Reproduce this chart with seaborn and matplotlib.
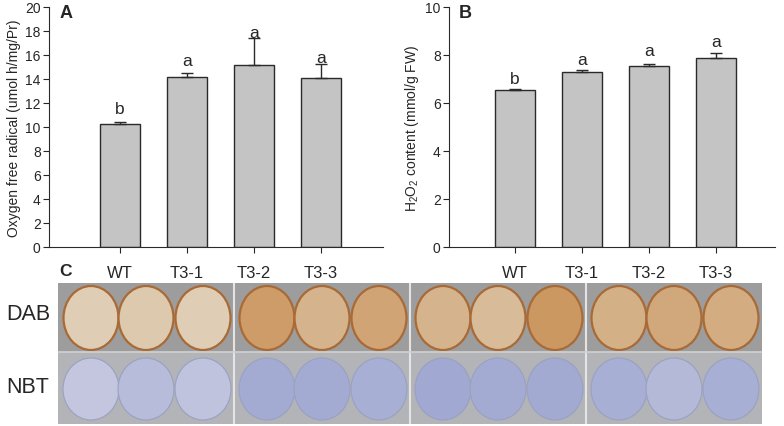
import numpy as np
import pandas as pd
import matplotlib
matplotlib.use("Agg")
import matplotlib.pyplot as plt
from matplotlib.patches import Ellipse, Rectangle
import seaborn as sns

# datos
lineas = ["WT", "T3-1", "T3-2", "T3-3"]

radical_media = [10.25, 14.2, 15.2, 14.06]
radical_error = [0.15, 0.3, 2.25, 1.16]
radical_letras = ["b", "a", "a", "a"]
radical_letras_y = [11.5, 15.5, 17.9, 15.75]

h2o2_media = [6.55, 7.31, 7.55, 7.86]
h2o2_error = [0.04, 0.07, 0.06, 0.22]
h2o2_letras = ["b", "a", "a", "a"]
h2o2_letras_y = [7.0, 7.83, 8.17, 8.58]

# intensidad aparente de tinción por disco (3 discos por línea)
dab_intensidad = [[0.12, 0.18, 0.12], [0.75, 0.45, 0.65],
                  [0.45, 0.35, 0.8], [0.5, 0.6, 0.55]]
nbt_intensidad = [[0.2, 0.35, 0.25], [0.6, 0.6, 0.55],
                  [0.65, 0.6, 0.62], [0.55, 0.4, 0.55]]

sns.set_style("ticks")
plt.rcParams["font.family"] = ["Liberation Sans", "DejaVu Sans"]
plt.rcParams["mathtext.fontset"] = "custom"
plt.rcParams["mathtext.rm"] = "Liberation Sans"

fig = plt.figure(figsize=(7.84, 4.27), dpi=100)

W, H = 784, 427


def px_axes(x0, y0, x1, y1):
    return fig.add_axes([x0 / W, 1 - y1 / H, (x1 - x0) / W, (y1 - y0) / H])


def plot_bar_panel(ax, medias, errores, letras, letras_y, ymax, paso, ylabel, xlim):
    df = pd.DataFrame({"linea": lineas, "valor": medias})
    sns.barplot(data=df, x="linea", y="valor", color="#c4c4c4",
                edgecolor="#2a2a2a", linewidth=1.0, width=0.6,
                saturation=1, ax=ax)
    ax.errorbar(range(len(lineas)), medias,
                yerr=[np.zeros(len(errores)), errores],
                fmt="none", ecolor="#2a2a2a", elinewidth=1.0,
                capsize=4, capthick=1.0)
    for i, (l, y) in enumerate(zip(letras, letras_y)):
        ax.text(i, y, l, ha="center", va="center", fontsize=12.5)
    ax.set_ylim(0, ymax)
    ax.set_xlim(*xlim)
    ax.set_yticks(np.arange(0, ymax + paso / 2, paso))
    ax.set_ylabel(ylabel, fontsize=10, labelpad=3)
    ax.set_xlabel("")
    ax.tick_params(axis="y", labelsize=10, length=4, width=0.8, pad=2)
    ax.tick_params(axis="x", labelsize=12, length=4, width=0.8, pad=9)
    for s in ["top", "right"]:
        ax.spines[s].set_visible(False)
    for s in ["left", "bottom"]:
        ax.spines[s].set_linewidth(0.8)
        ax.spines[s].set_color("#2a2a2a")


ax_a = px_axes(49, 8, 383, 248)
plot_bar_panel(ax_a, radical_media, radical_error, radical_letras,
               radical_letras_y, 20, 2,
               "Oxygen free radical (umol h/mg/Pr)", (-1.06, 3.93))
fig.text(60 / W, 1 - 14 / H, "A", fontsize=13, fontweight="bold", va="center")

ax_b = px_axes(449, 8, 775, 248)
plot_bar_panel(ax_b, h2o2_media, h2o2_error, h2o2_letras,
               h2o2_letras_y, 10, 2,
               r"H$_\mathregular{2}$O$_\mathregular{2}$ content (mmol/g FW)",
               (-0.985, 3.88))
fig.text(459 / W, 1 - 14 / H, "B", fontsize=13, fontweight="bold", va="center")

# panel C: discos de hoja teñidos
fig.text(59 / W, 1 - 272 / H, "C", fontsize=12.5, fontweight="bold", va="center")
fig.text(6 / W, 1 - 315 / H, "DAB", fontsize=15.5, va="center")
fig.text(6 / W, 1 - 388 / H, "NBT", fontsize=15.5, va="center")

ax_c = px_axes(58, 284, 762, 425)
ax_c.set_xlim(0, 704)
ax_c.set_ylim(141, 0)
ax_c.axis("off")

ax_c.add_patch(Rectangle((0, 0), 704, 69, color="#9d9d9d", zorder=0))
ax_c.add_patch(Rectangle((0, 69), 704, 72, color="#b3b4b8", zorder=0))

dab_claro = np.array([226, 216, 196]) / 255
dab_oscuro = np.array([198, 136, 74]) / 255
nbt_claro = np.array([210, 212, 228]) / 255
nbt_oscuro = np.array([134, 144, 198]) / 255

ancho_panel = 176
offsets = [33, 88, 145]
for p in range(4):
    x0 = p * ancho_panel
    for d in range(3):
        cx = x0 + offsets[d]
        i_dab = dab_intensidad[p][d]
        c_dab = dab_claro * (1 - i_dab) + dab_oscuro * i_dab
        ax_c.add_patch(Ellipse((cx, 35), 55, 64, facecolor=c_dab,
                               edgecolor="#a86a36", linewidth=1.6, zorder=2))
        i_nbt = nbt_intensidad[p][d]
        c_nbt = nbt_claro * (1 - i_nbt) + nbt_oscuro * i_nbt
        ax_c.add_patch(Ellipse((cx, 106), 56, 62, facecolor=c_nbt,
                               edgecolor="#9aa0c0", linewidth=0.8, zorder=2))
    if p > 0:
        ax_c.axvline(x0, color="#e4e4e4", linewidth=1.5, zorder=3)
ax_c.axhline(69, color="#d0d0d0", linewidth=1.2, zorder=3)

fig.savefig("out.png", dpi=100)
